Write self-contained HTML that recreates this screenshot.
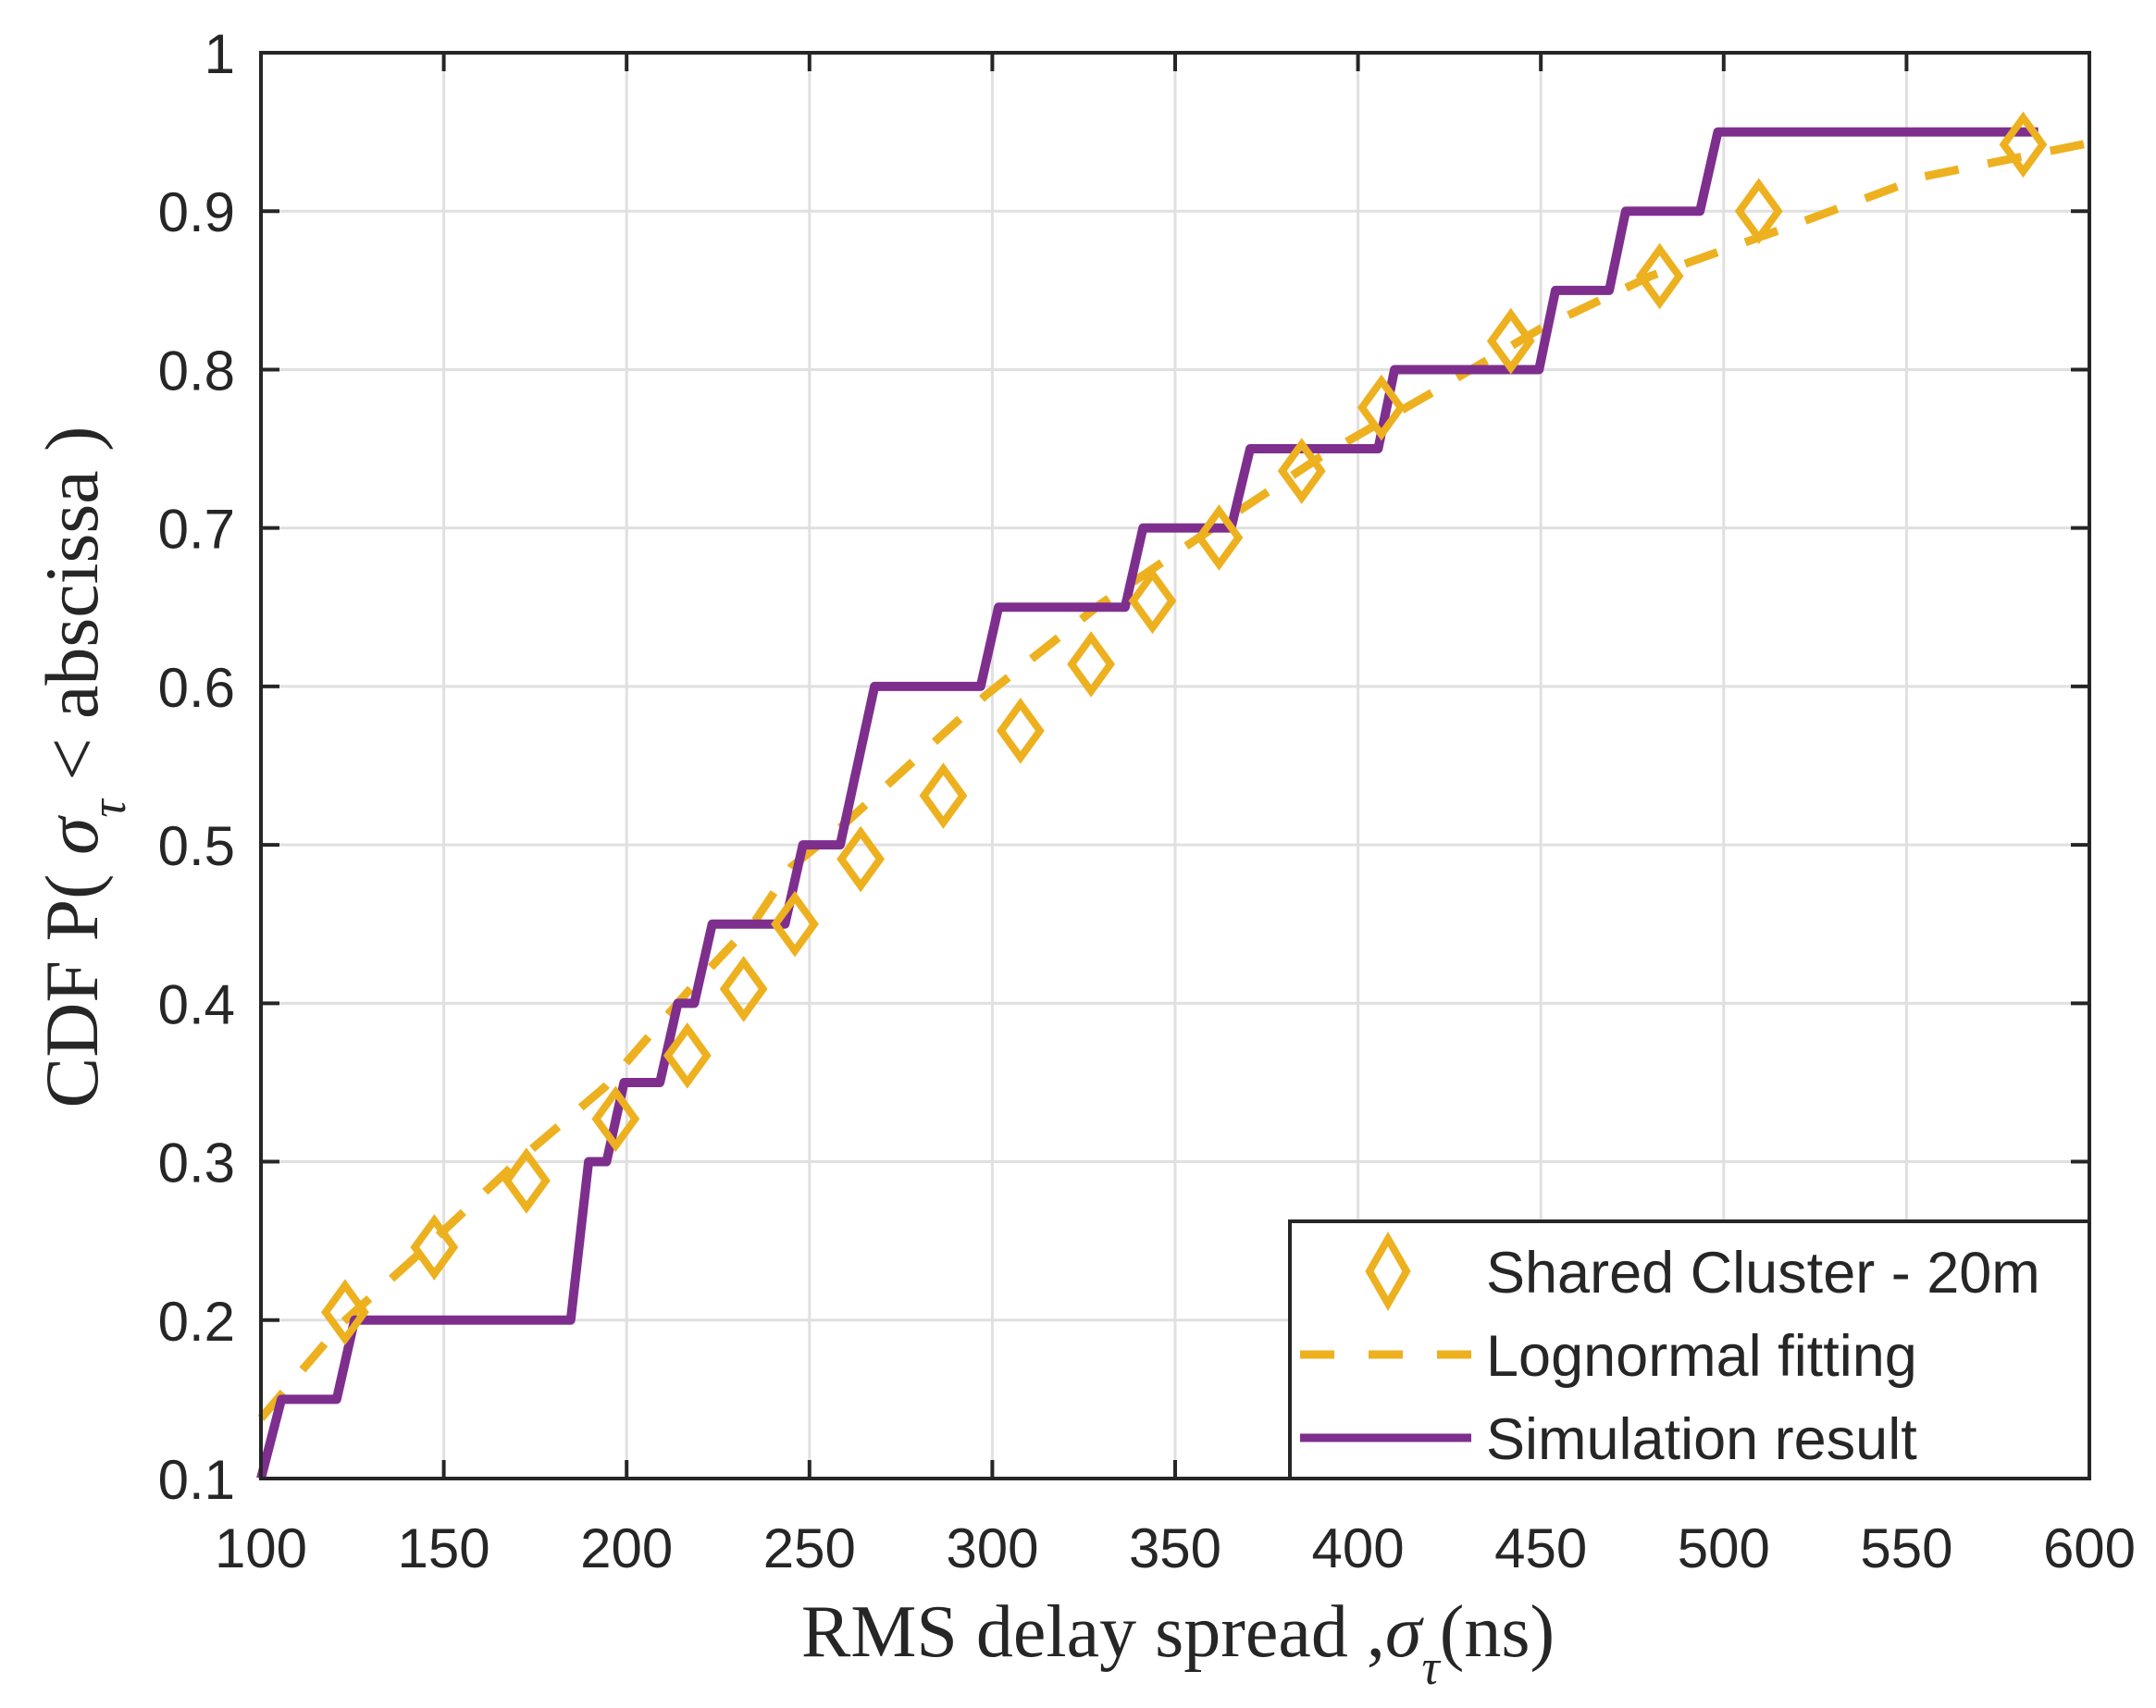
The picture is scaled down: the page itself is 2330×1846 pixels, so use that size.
<!DOCTYPE html>
<html><head><meta charset="utf-8"><style>
html,body{margin:0;padding:0;background:#fff;}
svg{display:block;}
text{font-family:"Liberation Sans",sans-serif;fill:#262626;}
.serif{font-family:"Liberation Serif",serif;}
</style></head><body>
<svg id="chart" width="2330" height="1846" viewBox="0 0 2330 1846" xmlns="http://www.w3.org/2000/svg">
<g id="grid"></g>
<g id="series"></g>
<g id="axes"></g>
<text class="serif" x="1273" y="1790" font-size="80" text-anchor="middle">RMS delay spread ,<tspan font-style="italic">σ</tspan><tspan font-style="italic" font-size="54" dy="30">τ</tspan><tspan dy="-30">(ns)</tspan></text>
<text class="serif" transform="translate(105,829) rotate(-90)" font-size="82" text-anchor="middle">CDF P( <tspan font-style="italic">σ</tspan><tspan font-style="italic" font-size="54" dy="30">τ</tspan><tspan dy="-30"> &lt; abscissa )</tspan></text>
<g>
<rect x="1394" y="1320" width="864" height="278" fill="#fff" stroke="#262626" stroke-width="4"/>
<path d="M1500,1339 L1520,1374 L1500,1409 L1480,1374 Z" fill="none" stroke="#EDB120" stroke-width="8"/>
<line x1="1405" y1="1464" x2="1590" y2="1464" stroke="#EDB120" stroke-width="9" stroke-dasharray="37,37"/>
<line x1="1405" y1="1554" x2="1590" y2="1554" stroke="#7E2F8E" stroke-width="9"/>
<text x="1606" y="1397" font-size="63" fill="#000">Shared Cluster - 20m</text>
<text x="1606" y="1487" font-size="63" fill="#000">Lognormal fitting</text>
<text x="1606" y="1577" font-size="63" fill="#000">Simulation result</text>
</g>
</svg>
<script>
const xTicks = [100,150,200,250,300,350,400,450,500,550,600];
const yTicks = [0.1,0.2,0.3,0.4,0.5,0.6,0.7,0.8,0.9,1];
const yTickLabels = ["0.1","0.2","0.3","0.4","0.5","0.6","0.7","0.8","0.9","1"];
const measX = [123,147.4,172.6,197,216.6,232,246,264,286.6,307.7,327,343.8,362,384.6,406.4,441.8,482.5,509.6,581.9];
const measY = [0.205,0.246,0.288,0.327,0.367,0.409,0.450,0.491,0.531,0.572,0.614,0.654,0.694,0.736,0.776,0.818,0.859,0.900,0.942];
const fitX = [100,122.6,141.4,171.5,194,216.6,235.4,245,259,298,329.6,359.7,389.8,419.9,450,480,517.6,555,600];
const fitY = [0.138,0.199,0.238,0.303,0.347,0.407,0.453,0.486,0.512,0.594,0.652,0.699,0.745,0.785,0.826,0.859,0.890,0.922,0.943];
const simX = [100,105.6,120.7,125.6,184.7,189.6,194.5,199.3,209.1,214,218.5,223.4,243.3,248.2,258.4,267.8,296.8,301.7,336.3,341.2,365.3,370.5,405.5,410,449.5,454,468.7,473.2,493.5,498.4,586];
const simY = [0.1,0.15,0.15,0.2,0.2,0.3,0.3,0.35,0.35,0.4,0.4,0.45,0.45,0.5,0.5,0.6,0.6,0.65,0.65,0.7,0.7,0.75,0.75,0.8,0.8,0.85,0.85,0.9,0.9,0.95,0.95];

const L=282,R=2258,T=57,B=1598;
const sx=v=>L+(v-100)/500*(R-L);
const sy=v=>B-(v-0.1)/0.9*(B-T);
const NS="http://www.w3.org/2000/svg";
function mk(tag,parent,attrs){const e=document.createElementNS(NS,tag);for(const k in attrs)e.setAttribute(k,attrs[k]);parent.appendChild(e);return e;}
const grid=document.getElementById('grid'),axes=document.getElementById('axes'),series=document.getElementById('series');
xTicks.forEach(t=>{
  const g=mk('line',grid,{x1:sx(t),x2:sx(t),y1:T,y2:B,stroke:'#e0e0e0','stroke-width':3});
  
  
  const a=mk('line',axes,{x1:sx(t),x2:sx(t),y1:B,y2:B-20,stroke:'#262626','stroke-width':4});
  
  
  const b=mk('line',axes,{x1:sx(t),x2:sx(t),y1:T,y2:T+20,stroke:'#262626','stroke-width':4});
  
  
  const tx=mk('text',axes,{x:sx(t),y:1694,'font-size':60,'text-anchor':'middle'});
  tx.textContent=t;
  
  
});
yTicks.forEach((t,i)=>{
  const g=mk('line',grid,{x1:L,x2:R,y1:sy(t),y2:sy(t),stroke:'#e0e0e0','stroke-width':3});
  
  
  const a=mk('line',axes,{x1:L,x2:L+20,y1:sy(t),y2:sy(t),stroke:'#262626','stroke-width':4});
  
  
  const b=mk('line',axes,{x1:R,x2:R-20,y1:sy(t),y2:sy(t),stroke:'#262626','stroke-width':4});
  
  
  const tx=mk('text',axes,{x:254,y:sy(t)+22,'font-size':60,'text-anchor':'end'});
  tx.textContent=yTickLabels[i];
  
  
});
const box=mk('rect',axes,{x:L,y:T,width:R-L,height:B-T,fill:'none',stroke:'#262626','stroke-width':4});



const fit=mk('polyline',series,{points:fitX.map((x,i)=>sx(x)+','+sy(fitY[i])).join(' '),fill:'none',stroke:'#EDB120','stroke-width':9,'stroke-dasharray':'37,32'});


const sim=mk('polyline',series,{points:simX.map((x,i)=>sx(x)+','+sy(simY[i])).join(' '),fill:'none',stroke:'#7E2F8E','stroke-width':10,'stroke-linejoin':'round'});


measX.forEach((x,i)=>{
  const cx=sx(x),cy=sy(measY[i]);
  const d=mk('path',series,{d:`M${cx},${cy-29} L${cx+21},${cy} L${cx},${cy+29} L${cx-21},${cy} Z`,fill:'none',stroke:'#EDB120','stroke-width':8});
  
  
});
</script>
</body></html>
